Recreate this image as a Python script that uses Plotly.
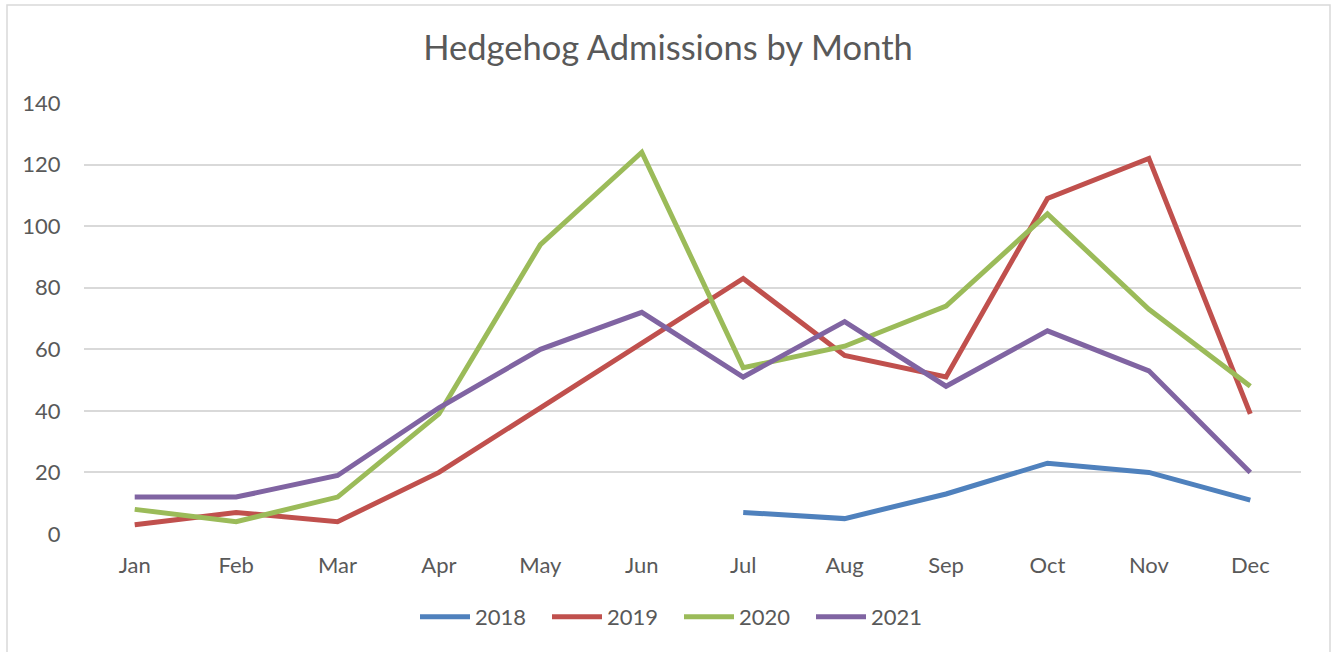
import plotly.graph_objects as go

months = ["Jan", "Feb", "Mar", "Apr", "May", "Jun", "Jul", "Aug", "Sep", "Oct", "Nov", "Dec"]
y2018 = [None, None, None, None, None, None, 7, 5, 13, 23, 20, 11]
y2019 = [3, 7, 4, 20, 41, 62, 83, 58, 51, 109, 122, 39]
y2020 = [8, 4, 12, 39, 94, 124, 54, 61, 74, 104, 73, 48]
y2021 = [12, 12, 19, 41, 60, 72, 51, 69, 48, 66, 53, 20]
series_names = ["2018", "2019", "2020", "2021"]
colors = ["#4F81BD", "#C0504D", "#9BBB59", "#8064A2"]
y_ticks = [0, 20, 40, 60, 80, 100, 120, 140]

W, H = 1336, 652
L, R, T, B = 84, 35, 103, 118
pw = W - L - R
ph = H - T - B

fig = go.Figure()
for name, vals, c in zip(series_names, [y2018, y2019, y2020, y2021], colors):
    fig.add_trace(go.Scatter(x=months, y=vals, name=name, mode="lines",
                             line=dict(color=c, width=5), connectgaps=False))

font_family = "Lato, 'Open Sans', sans-serif"
fig.update_layout(
    width=W, height=H,
    margin=dict(l=L, r=R, t=T, b=B),
    paper_bgcolor="white", plot_bgcolor="white",
    title=dict(text="Hedgehog Admissions by Month", x=0.5, xanchor="center",
               y=1 - 48 / H, yanchor="middle",
               font=dict(family=font_family, size=34.5, color="#595959")),
    font=dict(family=font_family, size=22, color="#595959"),
    xaxis=dict(type="category", categoryorder="array", categoryarray=months,
               range=[-0.5, 11.5], showgrid=False, zeroline=False, showline=False,
               ticks="outside", ticklen=12, tickcolor="rgba(0,0,0,0)",
               tickfont=dict(size=22, color="#595959")),
    yaxis=dict(range=[0, 140], tickvals=y_ticks, showgrid=True, gridcolor="#D9D9D9",
               gridwidth=1.5, zeroline=False, showline=False,
               ticks="outside", ticklen=18, tickcolor="rgba(0,0,0,0)",
               tickfont=dict(size=22, color="#595959")),
    legend=dict(orientation="h", x=(679 - L) / pw, xanchor="center",
                y=(534 - 617) / ph, yanchor="middle",
                font=dict(size=22, color="#595959"), itemwidth=50,
                entrywidth=67, entrywidthmode="pixels",
                traceorder="normal"),
    shapes=[dict(type="rect", xref="paper", yref="paper",
                 x0=(7 - L) / pw, x1=(1330 - L) / pw,
                 y0=(534 - 670) / ph, y1=(534 - 5) / ph,
                 line=dict(color="#D9D9D9", width=1.5), fillcolor="rgba(0,0,0,0)",
                 layer="below")],
)

fig.write_html("out.html", config={"displayModeBar": False},
               post_script="document.body.style.margin='0px';document.body.style.overflow='hidden';")
